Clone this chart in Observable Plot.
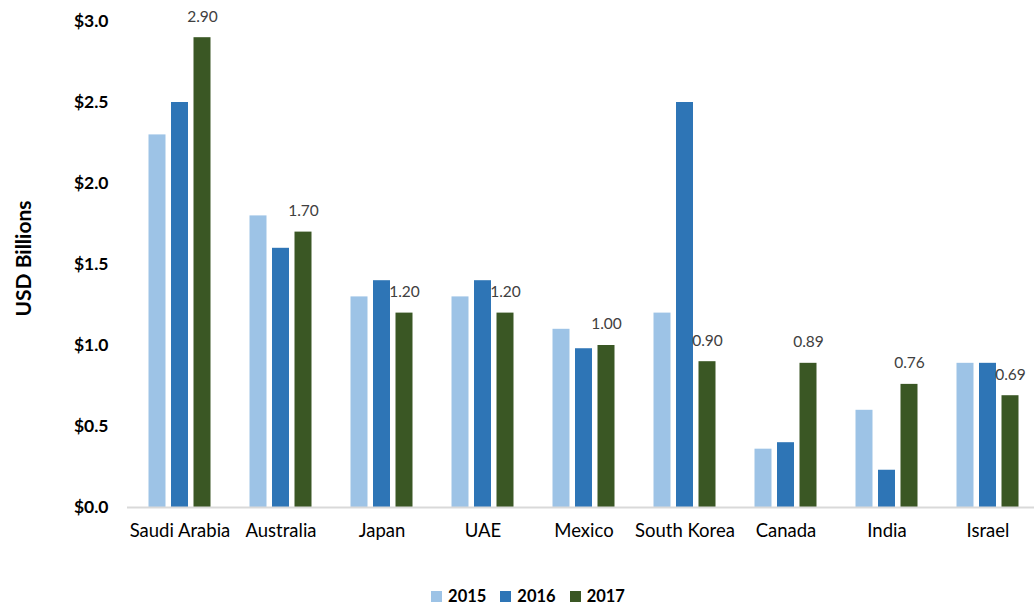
<!DOCTYPE html>
<html>
<head>
<meta charset="utf-8">
<script src="https://cdn.jsdelivr.net/npm/d3@7"></script>
<script src="https://cdn.jsdelivr.net/npm/@observablehq/plot@0.6"></script>
<style>
  body { margin: 0; background: #fff; font-family: Lato, "Open Sans", sans-serif; }
  #chart svg { display: block; }
  .legend { display: flex; justify-content: center; align-items: center; gap: 14px; height: 36px; margin-top: 8px; margin-left: 22px; font-weight: bold; font-size: 16.5px; color: #000; }
  .legend span.item { display: flex; align-items: center; gap: 6px; }
  .legend span.sw { width: 11px; height: 11px; display: inline-block; }
</style>
</head>
<body>
<div id="chart"></div>
<div class="legend" id="legend"></div>
<script>
const countries = ["Saudi Arabia", "Australia", "Japan", "UAE", "Mexico", "South Korea", "Canada", "India", "Israel"];
const years = ["2015", "2016", "2017"];
const values2015 = [2.30, 1.80, 1.30, 1.30, 1.10, 1.20, 0.36, 0.60, 0.89];
const values2016 = [2.50, 1.60, 1.40, 1.40, 0.98, 2.50, 0.40, 0.23, 0.89];
const values2017 = [2.90, 1.70, 1.20, 1.20, 1.00, 0.90, 0.89, 0.76, 0.69];
const yTicks = [0, 0.5, 1.0, 1.5, 2.0, 2.5, 3.0];
const colors = ["#9DC3E6", "#2E75B6", "#3A5724"];

const series = [values2015, values2016, values2017];
const rows = [];
years.forEach((yr, j) => countries.forEach((c, i) => rows.push({country: c, year: yr, value: series[j][i]})));

const offsets = [-22.5, 0, 22.5];
const barMarks = years.map((yr, j) =>
  Plot.barY(rows.filter(d => d.year === yr), {x: "country", y: "value", fill: colors[j], dx: offsets[j], insetLeft: 0, insetRight: 0})
);

const chart = Plot.plot({
  width: 1034,
  height: 570,
  marginLeft: 127,
  marginRight: 0,
  marginTop: 21,
  marginBottom: 63,
  style: {fontFamily: "Lato, 'Open Sans', sans-serif", background: "#fff"},
  x: {domain: countries, range: [127.25, 1040.75], paddingInner: 0.828, paddingOuter: 0.414, label: null},
  y: {domain: [0, 3], ticks: yTicks, label: null},
  marks: [
    Plot.axisY({ticks: yTicks, tickSize: 0, tickPadding: 19, tickFormat: d => "$" + d.toFixed(1), fontSize: 17.5, fontWeight: "bold", fill: "#000", label: null}),
    Plot.axisX({tickSize: 0, tickPadding: 16, fontSize: 18.5, fill: "#000", label: null}),
    Plot.text(["USD Billions"], {frameAnchor: "left", textAnchor: "middle", rotate: -90, dx: -103, dy: -6, fontSize: 21, fontWeight: "bold", fill: "#000"}),
    ...barMarks,
    Plot.ruleY([0], {stroke: "#D9D9D9", strokeWidth: 2}),
    Plot.text(rows.filter(d => d.year === "2017"), {x: "country", y: "value", text: d => d.value.toFixed(2), dx: offsets[2], dy: -21, fontSize: 15.5, fill: "#404040"})
  ]
});
document.getElementById("chart").appendChild(chart);

const legend = document.getElementById("legend");
years.forEach((yr, j) => {
  const item = document.createElement("span");
  item.className = "item";
  const sw = document.createElement("span");
  sw.className = "sw";
  sw.style.background = colors[j];
  item.appendChild(sw);
  item.appendChild(document.createTextNode(yr));
  legend.appendChild(item);
});
</script>
</body>
</html>
